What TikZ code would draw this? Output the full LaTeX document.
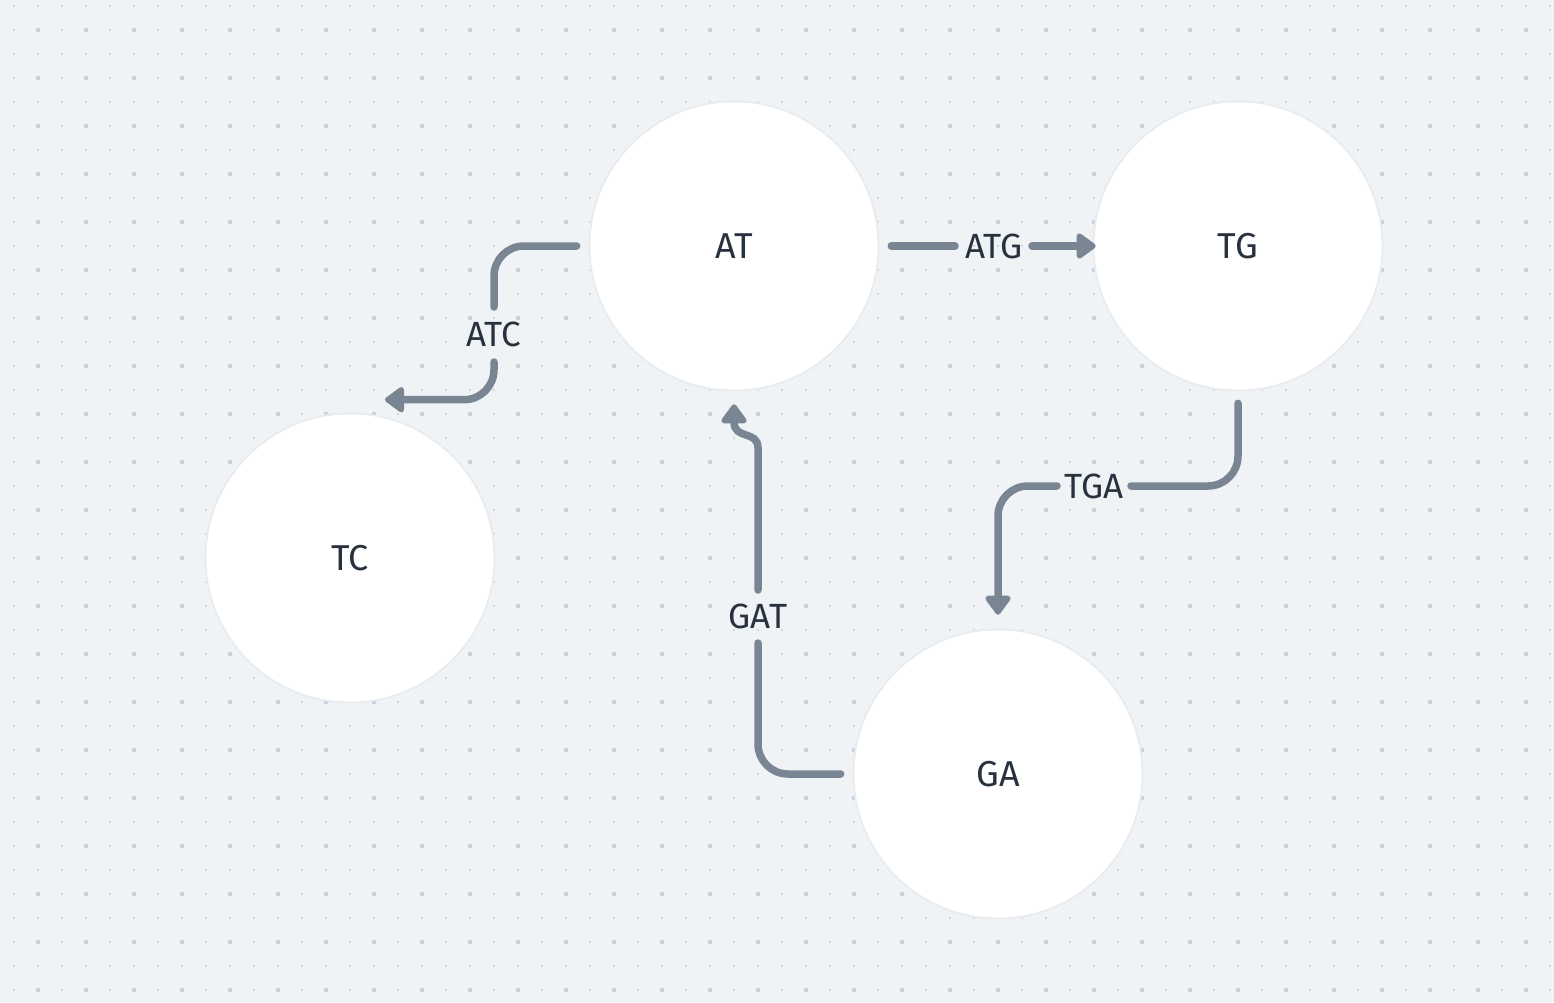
\documentclass[tikz,border=0pt]{standalone}
\usepackage{fontspec}
\setmainfont{Fira Sans}
\usetikzlibrary{arrows.meta}
\definecolor{bg}{HTML}{EFF3F6}
\definecolor{dotc}{HTML}{C8CFD9}
\definecolor{edgec}{HTML}{7A8594}
\definecolor{txt}{HTML}{28323E}
\definecolor{ring}{HTML}{E6E9ED}
\definecolor{shade}{HTML}{E9ECF0}
\begin{document}
\begin{tikzpicture}[x=1pt,y=-1pt,
  state/.style={circle, fill=white, draw=ring, line width=0.6pt, minimum size=288pt, inner sep=0pt,
    font=\fontsize{36}{42}\selectfont, text=txt,
    preaction={draw=shade, line width=3pt}},
  conn/.style={draw=edgec, line width=7.5pt, line cap=round, rounded corners=30pt},
  tipped/.style={conn, -{Triangle[length=21pt,width=29pt,round]}},
  lbl/.style={font=\fontsize{35}{40}\selectfont, text=txt, inner sep=0pt}
]
\fill[bg] (0,0) rectangle (1554,1002);
\useasboundingbox (0,0) rectangle (1554,1002);
\foreach \i in {0,...,64}{\foreach \j in {0,...,41}{\fill[dotc] (14+24*\i, 6+24*\j) circle (1.1pt);}}
\foreach \i in {0,...,32}{\foreach \j in {0,...,20}{\fill[dotc] (38+48*\i, 30+48*\j) circle (2.3pt);}}

\node[state] (AT) at (734,246) {AT};
\node[state] (TG) at (1238,246) {TG};
\node[state] (TC) at (350,558) {TC};
\node[state] (GA) at (998,774) {GA};

\node[lbl] (lATC) at (494,334) {ATC};
\node[lbl] (lATG) at (994,246) {ATG};
\node[lbl] (lTGA) at (1094,486) {TGA};
\node[lbl] (lGAT) at (758,616) {GAT};

\coordinate (tcTip) at ([shift={(35pt,14pt)}]TC.north);

% AT -> TC
\draw[conn] ([xshift=-13pt]AT.west) -| ([yshift=27pt]lATC.center);
\draw[tipped] ([yshift=-28pt]lATC.center) |- (tcTip);
% AT -> TG
\draw[conn] ([xshift=13pt]AT.east) -- ([xshift=-39pt]lATG.center);
\draw[tipped] ([xshift=38pt]lATG.center) -- ([xshift=2pt]TG.west);
% TG -> GA
\draw[conn] ([yshift=-13pt]TG.south) |- ([xshift=37pt]lTGA.center);
\draw[tipped] ([xshift=-37pt]lTGA.center) -| ([yshift=15pt]GA.north);
% GA -> AT
\draw[conn] ([xshift=-13pt]GA.west) -| ([yshift=-27pt]lGAT.center);
\draw[tipped, sharp corners] ([yshift=26pt]lGAT.center) -- (758,448) .. controls (758,430) and (734,440) .. ([yshift=-14pt]AT.south);
\end{tikzpicture}
\end{document}
